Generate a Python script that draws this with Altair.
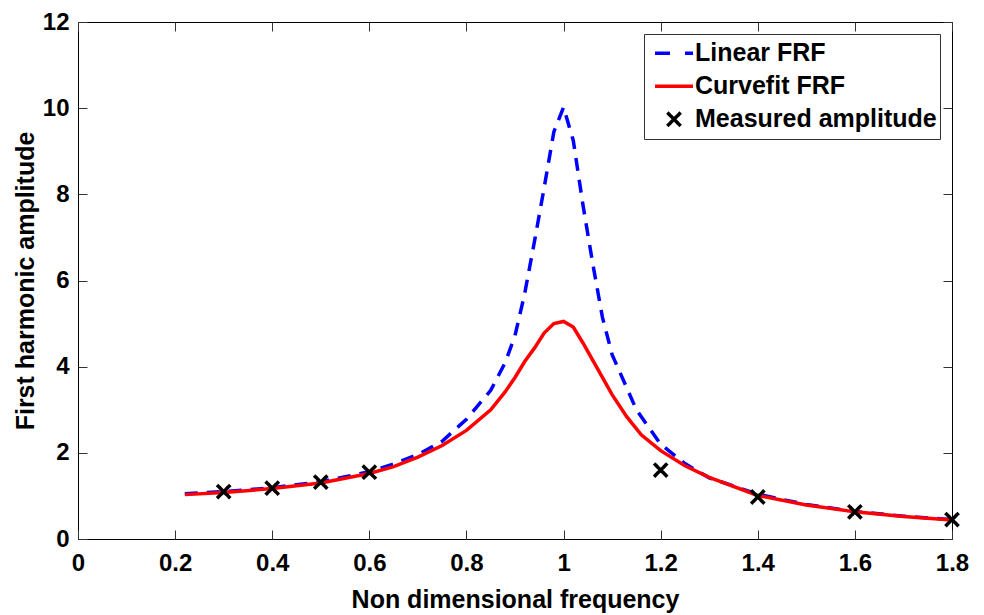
import altair as alt
import pandas as pd

# ---- data ----
series_names = ["Linear FRF", "Curvefit FRF", "Measured amplitude"]
series_colors = ["#0000ff", "#ff0000", "#000000"]
legend_shapes = ["M-1,0L1,0", "M-1,0L1,0", "M-0.35,-0.35L0.35,0.35M0.35,-0.35L-0.35,0.35"]
legend_dashes = [[15, 15], [1, 0], [1, 0]]

freq_linear = [0.22, 0.3, 0.4, 0.5, 0.6, 0.65, 0.7, 0.75, 0.8, 0.85, 0.88, 0.9, 0.92, 0.94,
               0.96, 0.98, 1.0, 1.02, 1.04, 1.06, 1.08, 1.1, 1.15, 1.2, 1.25, 1.3, 1.4, 1.5,
               1.6, 1.7, 1.8]
amp_linear = [1.05, 1.10, 1.19, 1.33, 1.56, 1.74, 1.96, 2.27, 2.78, 3.45, 4.10, 4.72, 5.70, 6.90,
              8.15, 9.45, 10.02, 9.25, 7.75, 6.40, 5.15, 4.28, 3.00, 2.20, 1.75, 1.42, 1.04, 0.80,
              0.64, 0.53, 0.45]

freq_fit = [0.22, 0.3, 0.4, 0.5, 0.6, 0.65, 0.7, 0.75, 0.8, 0.85, 0.88, 0.9, 0.92, 0.94, 0.96,
            0.98, 1.0, 1.02, 1.04, 1.06, 1.08, 1.1, 1.13, 1.16, 1.2, 1.25, 1.3, 1.4, 1.5, 1.6,
            1.7, 1.8]
amp_fit = [1.03, 1.08, 1.17, 1.30, 1.52, 1.68, 1.90, 2.17, 2.52, 3.00, 3.42, 3.75, 4.12, 4.43,
           4.78, 5.00, 5.05, 4.92, 4.55, 4.15, 3.75, 3.35, 2.84, 2.42, 2.05, 1.70, 1.43, 1.01,
           0.79, 0.63, 0.52, 0.44]

freq_meas = [0.3, 0.4, 0.5, 0.6, 1.2, 1.4, 1.6, 1.8]
amp_meas = [1.10, 1.18, 1.32, 1.55, 1.60, 0.975, 0.63, 0.45]

x_ticks = [0, 0.2, 0.4, 0.6, 0.8, 1.0, 1.2, 1.4, 1.6, 1.8]
y_ticks = [0, 2, 4, 6, 8, 10, 12]

df_lin = pd.DataFrame({"freq": freq_linear, "amp": amp_linear, "series": series_names[0]})
df_fit = pd.DataFrame({"freq": freq_fit, "amp": amp_fit, "series": series_names[1]})
df_meas = pd.DataFrame({"freq": freq_meas, "amp": amp_meas, "series": series_names[2]})

FONT = "Liberation Sans"
x_scale = alt.Scale(domain=[0, 1.8], nice=False, zero=False)
y_scale = alt.Scale(domain=[0, 12], nice=False, zero=False)

common_axis = dict(tickSize=9, tickColor="#333333", tickWidth=1, domain=False, grid=False,
                   offset=-9, labelFont=FONT, labelFontSize=24, labelFontWeight="bold",
                   labelColor="black", titleFont=FONT, titleFontSize=25,
                   titleFontWeight="bold", titleColor="black", labelFlush=False,
                   labelOverlap=False)

x_axis_bottom = alt.Axis(orient="bottom", values=x_ticks, format="~g", labelPadding=12,
                         title="Non dimensional frequency", titlePadding=12, **common_axis)
y_axis_left = alt.Axis(orient="left", values=y_ticks, format="d", labelPadding=9,
                       title="First harmonic amplitude", titlePadding=4, **common_axis)
x_axis_top = alt.Axis(orient="top", values=x_ticks, labels=False, title=None, **common_axis)
y_axis_right = alt.Axis(orient="right", values=y_ticks, labels=False, title=None, **common_axis)

legend = alt.Legend(
    orient="none", legendX=566, legendY=12, title=None, direction="vertical",
    labelFont=FONT, labelFontSize=25, labelFontWeight="bold", labelColor="black",
    labelLimit=500, symbolSize=1444, symbolStrokeWidth=3.5, clipHeight=32.5,
    labelOffset=0, padding=3, symbolOffset=6, rowPadding=0, strokeColor="#333333",
    fillColor="white", cornerRadius=0,
)

blue = alt.Chart(df_lin).mark_line(strokeWidth=3.5, strokeDash=[13, 9], color="#0000ff").encode(
    x=alt.X("freq:Q", scale=x_scale, axis=x_axis_bottom),
    y=alt.Y("amp:Q", scale=y_scale, axis=y_axis_left),
)

red = alt.Chart(df_fit).mark_line(strokeWidth=3.5, color="#ff0000").encode(
    x=alt.X("freq:Q", scale=x_scale, axis=None),
    y=alt.Y("amp:Q", scale=y_scale, axis=None),
)

pts = alt.Chart(df_meas).mark_point(
    size=1444, strokeWidth=3.5, filled=False, opacity=1,
).encode(
    x=alt.X("freq:Q", scale=x_scale, axis=x_axis_top),
    y=alt.Y("amp:Q", scale=y_scale, axis=y_axis_right),
    color=alt.Color("series:N", scale=alt.Scale(domain=series_names, range=series_colors),
                    legend=legend),
    shape=alt.Shape("series:N", scale=alt.Scale(domain=series_names, range=legend_shapes),
                    legend=legend),
    strokeDash=alt.StrokeDash("series:N", scale=alt.Scale(domain=series_names, range=legend_dashes),
                              legend=legend),
)

chart = alt.layer(blue, red, pts).resolve_axis(x="independent", y="independent").properties(
    width=874, height=517,
    autosize=alt.AutoSizeParams(type="none"),
    padding={"left": 78, "top": 22, "right": 32, "bottom": 76},
    background="white",
).configure_view(stroke="black", strokeWidth=1)

chart.save("out.html", embed_options={"renderer": "svg", "actions": False})
